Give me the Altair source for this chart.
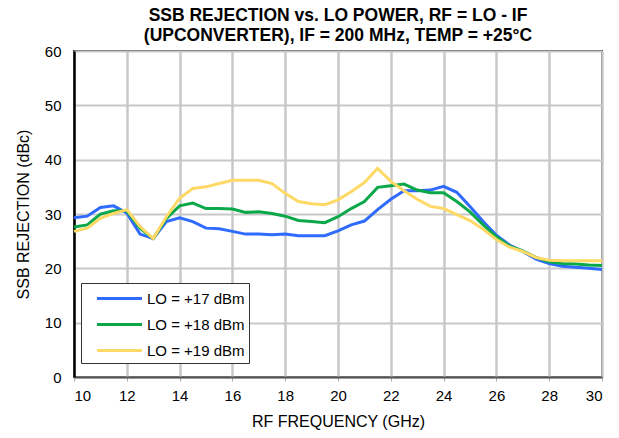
import altair as alt
import pandas as pd

freq = [10.0, 10.5, 11.0, 11.5, 12.0, 12.5, 13.0, 13.5, 14.0, 14.5, 15.0, 15.5, 16.0, 16.5,
        17.0, 17.5, 18.0, 18.5, 19.0, 19.5, 20.0, 20.5, 21.0, 21.5, 22.0, 22.5, 23.0, 23.5,
        24.0, 24.5, 25.0, 25.5, 26.0, 26.5, 27.0, 27.5, 28.0, 28.5, 29.0, 29.5, 30.0]

lo17 = [29.3, 29.6, 31.2, 31.5, 30.2, 26.3, 25.5, 28.6, 29.3, 28.6, 27.4, 27.3, 26.8, 26.3,
        26.3, 26.2, 26.3, 26.0, 26.0, 26.0, 26.9, 28.0, 28.7, 30.8, 32.7, 34.3, 34.3, 34.4,
        35.1, 34.0, 31.4, 28.6, 26.1, 24.3, 23.1, 21.7, 20.9, 20.4, 20.2, 20.0, 19.8]

lo18 = [27.6, 28.0, 30.0, 30.6, 30.6, 27.4, 25.5, 29.2, 31.5, 32.0, 31.0, 31.0, 30.9, 30.3,
        30.4, 30.1, 29.6, 28.8, 28.6, 28.4, 29.5, 31.0, 32.3, 34.9, 35.2, 35.5, 34.4, 33.9,
        33.9, 32.3, 30.4, 28.0, 25.8, 24.1, 23.2, 22.0, 21.2, 20.9, 20.8, 20.6, 20.5]

lo19 = [26.8, 27.4, 29.2, 30.1, 30.8, 27.7, 25.5, 29.5, 32.9, 34.7, 35.0, 35.6, 36.2, 36.2,
        36.2, 35.6, 33.8, 32.3, 31.9, 31.7, 32.6, 34.1, 35.8, 38.4, 36.0, 34.3, 32.7, 31.4,
        31.0, 29.9, 28.8, 27.2, 25.3, 23.9, 23.1, 22.0, 21.5, 21.4, 21.4, 21.4, 21.4]

series_names = ["LO = +17 dBm", "LO = +18 dBm", "LO = +19 dBm"]
series_colors = ["#2F6BFF", "#0BA84A", "#FFD966"]

rows = []
for name, vals in zip(series_names, [lo17, lo18, lo19]):
    for f, v in zip(freq, vals):
        rows.append({"freq": f, "val": v, "series": name})
df = pd.DataFrame(rows)

FONT = "Liberation Sans"

chart = alt.Chart(df).mark_line(strokeWidth=3).encode(
    x=alt.X("freq:Q", title="RF FREQUENCY (GHz)",
            scale=alt.Scale(domain=[10, 30], nice=False),
            axis=alt.Axis(values=list(range(10, 31, 2)), tickSize=4, tickColor="#aaaaaa",
                          labelPadding=7, titlePadding=10, domainColor="#555555",
                          domainWidth=2, gridWidth=2.5)),
    y=alt.Y("val:Q", title="SSB REJECTION (dBc)",
            scale=alt.Scale(domain=[0, 60], nice=False),
            axis=alt.Axis(values=list(range(0, 61, 10)), ticks=False, labelPadding=13,
                          titlePadding=13, domainColor="#000000", domainWidth=2.5,
                          gridWidth=2)),
    color=alt.Color("series:N", scale=alt.Scale(domain=series_names, range=series_colors),
                    legend=alt.Legend(title=None, orient="none", legendX=7, legendY=232,
                                      symbolType="M-2.25,0H2.25", symbolSize=400,
                                      symbolStrokeWidth=3, symbolOffset=23,
                                      labelFontSize=15,
                                      labelFont=FONT, labelColor="#000000",
                                      labelOffset=16, strokeColor="#333333",
                                      padding=4, rowPadding=6, fillColor="#ffffff")),
    order=alt.Order("freq:Q"),
).properties(
    width=528, height=326,
    title=alt.TitleParams(
        ["SSB REJECTION vs. LO POWER, RF = LO - IF",
         "(UPCONVERTER), IF = 200 MHz, TEMP = +25°C"],
        font=FONT, fontSize=17.5, fontWeight="bold", color="#000000",
        lineHeight=19.5, anchor="middle", offset=0),
    autosize=alt.AutoSizeParams(type="none"),
    padding={"left": 66, "top": 43, "right": 9, "bottom": 53},
).configure_axis(
    labelFont=FONT, labelFontSize=15, labelColor="#000000",
    titleFont=FONT, titleFontSize=16, titleFontWeight="normal", titleColor="#000000",
    gridColor="#c8c8c8",
).configure_view(
    stroke="#444444", strokeWidth=2,
)

chart.save("out.html", embed_options={"renderer": "svg", "actions": False})
